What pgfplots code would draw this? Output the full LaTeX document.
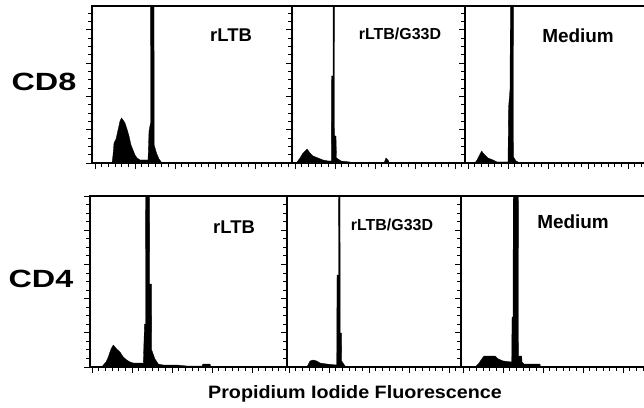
\documentclass[border=0pt]{standalone}
\usepackage{fontspec}
\setmainfont{Liberation Sans}
\usepackage{pgfplots}
\pgfplotsset{compat=1.18}

\pgfplotsset{
  panel/.style={
    scale only axis, anchor=south west,
    axis line style={line width=1.2bp},
    xmin=0, ymin=0,
    tick align=outside, xtick pos=left, ytick pos=left,
    xticklabels={}, yticklabels={},
    major tick length=6bp, minor tick length=4bp,
    every tick/.style={black, line width=0.9bp},
  },
  toprow/.style={panel, height=157bp, ymax=157,
    xtick={3,43,...,203}, minor xtick={3,9.667,...,203},
    ytick={0,33.33,...,160}, minor ytick={0,8.333,...,160}},
  botrow/.style={panel, height=171bp, ymax=171,
    xtick={2,42,...,202}, minor xtick={2,8.667,...,202},
    ytick={0,34.2,...,172}, minor ytick={0,8.55,...,172}},
  hist/.style={fill=black, draw=black, line width=0.3bp},
}

\begin{document}
\begin{tikzpicture}[x=1bp, y=1bp]
\path[use as bounding box] (0,0) rectangle (644,407);

% CD8, rLTB
\begin{axis}[toprow, at={(92bp,244bp)}, width=200bp, xmax=200]
\addplot[hist] coordinates {(20,0) (21,8) (22,20) (24,24) (26,33) (28,42) (29.5,45) (31,43) (33,40) (35,34) (37,27) (39,18) (41,13) (43,8) (45,5) (48,3) (56,3) (57,32) (58.5,40) (58.7,200) (62,200) (62.2,18) (64.5,10) (67,4) (70,0)} \closedcycle;
\end{axis}
% CD8, rLTB/G33D
\begin{axis}[toprow, at={(292bp,244bp)}, width=173bp, xmax=173]
\addplot[hist] coordinates {(3,0) (5,1) (8,5) (11,10) (15,14) (18,10) (21,7) (26,5) (31,3) (36,2) (39.3,2) (39.5,87) (41,87) (41.2,200) (42.3,200) (42.5,27) (44,27) (44.5,5) (49,2) (58,1) (62,0) (92,0) (94,5) (96,3) (97.5,0)} \closedcycle;
\end{axis}
% CD8, Medium
\begin{axis}[toprow, at={(465bp,244bp)}, width=183bp, xmax=183]
\addplot[hist] coordinates {(10,0) (12,3) (14,7) (16.7,12) (18,10) (20,8) (23,5) (28,3) (32,1) (43,1) (43.5,55) (45,74) (45.5,200) (48.3,200) (48.5,6) (51,2) (55,0)} \closedcycle;
\end{axis}

% CD4, rLTB
\begin{axis}[botrow, at={(90bp,40bp)}, width=197bp, xmax=197]
\addplot[hist] coordinates {(12,0) (13.3,2) (16,5) (18.3,10) (21,18) (23.3,22) (25,20) (26.7,18) (30,15) (33.3,10) (36.7,7) (40,5) (43.3,4) (53.3,4) (54.5,43) (55.5,43) (55.7,200) (59.5,200) (59.7,83) (61.5,83) (61.7,17) (65,8) (68.3,3) (73,2) (87,2) (97,1) (112,1) (113,3) (120,3) (121,0)} \closedcycle;
\end{axis}
% CD4, rLTB/G33D
\begin{axis}[botrow, at={(287bp,40bp)}, width=174bp, xmax=174]
\addplot[hist] coordinates {(19,0) (21,2) (23,6) (26.3,7) (29.7,6) (33,4) (39.7,3) (49.7,2) (50,92) (51.5,92) (51.7,200) (53,200) (53.2,34) (54.5,34) (54.7,6) (58,1) (59.7,0)} \closedcycle;
\end{axis}
% CD4, Medium
\begin{axis}[botrow, at={(461bp,40bp)}, width=187bp, xmax=187]
\addplot[hist] coordinates {(14,0) (15,1) (17.3,3) (20.7,8) (23,11) (34,11) (37.3,8) (42.3,6) (50.7,5) (51,50) (52,50) (52.3,200) (57.3,200) (57.5,11) (60.7,11) (61,5) (63,3) (79,3) (79.5,0)} \closedcycle;
\end{axis}

% labels
\node[anchor=base, xscale=1.3, font=\bfseries\fontsize{25}{27}\selectfont] at (44,317) {CD8};
\node[anchor=base, xscale=1.3, font=\bfseries\fontsize{25}{27}\selectfont] at (41,120) {CD4};
\node[anchor=base, font=\bfseries\fontsize{18.5}{20}\selectfont] at (231,366) {rLTB};
\node[anchor=base, font=\bfseries\fontsize{16}{18}\selectfont] at (400,368) {rLTB/G33D};
\node[anchor=base, font=\bfseries\fontsize{19}{21}\selectfont] at (578,365) {Medium};
\node[anchor=base, font=\bfseries\fontsize{18.5}{20}\selectfont] at (234,174) {rLTB};
\node[anchor=base, font=\bfseries\fontsize{16}{18}\selectfont] at (392,177) {rLTB/G33D};
\node[anchor=base, font=\bfseries\fontsize{19}{21}\selectfont] at (573,179) {Medium};
\node[anchor=base, xscale=1.1, font=\bfseries\fontsize{18}{20}\selectfont] at (355,9) {Propidium Iodide Fluorescence};
\end{tikzpicture}
\end{document}
